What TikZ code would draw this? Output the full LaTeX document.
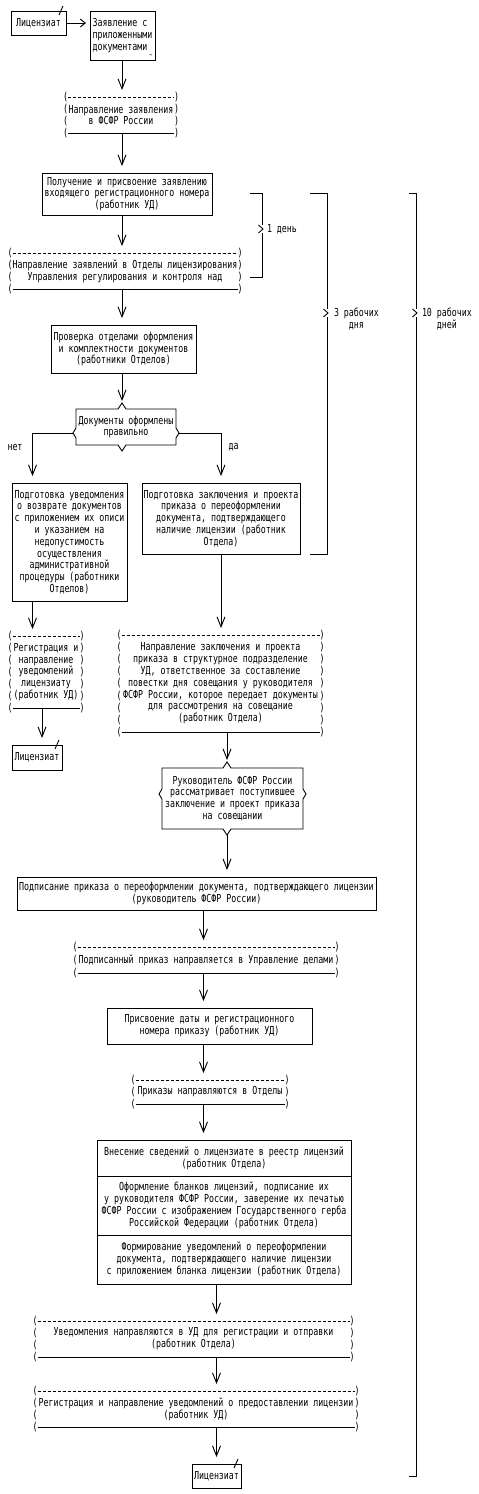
\documentclass[tikz,border=0pt]{standalone}
\usepackage{fontspec}
\setmonofont[FakeStretch=0.754]{DejaVu Sans Mono}
\usetikzlibrary{arrows.meta}
\usetikzlibrary{positioning, calc}

\begin{document}
\begin{tikzpicture}[x=1pt,y=-1pt,line width=0.9pt,
    every node/.style={font=\ttfamily\fontsize{11}{11.8}\selectfont,inner sep=0pt,outer sep=0pt}]
  \tikzstyle{box}=[draw,rectangle,inner sep=1pt,align=center]
  \tikzstyle{brk}=[rectangle,inner sep=0pt,align=center]
  \tikzstyle{decbox}=[rectangle,inner sep=1pt,align=center]
  \tikzstyle{paren}=[inner sep=0pt]
  \tikzstyle{vto}=[-{Straight Barb[length=10pt,width=8pt]},shorten >=7pt]
  \tikzstyle{hto}=[-{Straight Barb[length=5pt,width=8pt]},shorten >=4pt]
  \tikzstyle{dashline}=[dash pattern=on 3pt off 2pt]

  \useasboundingbox (0,0) rectangle (479,1494);

  % bracket box: dashed top, solid bottom, ( ) on every row
  \def\parenbox#1#2{%
    \draw[dashline] (#1.north west) -- (#1.north east);
    \draw (#1.south west) -- (#1.south east);
    \foreach \r [evaluate={\f=\r/#2;}] in {0,...,#2}{
        \node[paren] at ($(#1.north west)!\f!(#1.south west)+(-2.5,0)$) {(};
        \node[paren] at ($(#1.north east)!\f!(#1.south east)+(2.5,0)$) {)};
      }
  }
  % box with /\ \/ < > marks
  \def\notched#1#2#3{%
    \coordinate (#1t) at ($(#1.north -| #2)+(0,-6)$);
    \coordinate (#1b) at ($(#1.south -| #2)+(0,6)$);
    \coordinate (#1l) at ($(#1.west)+(-3,#3)$);
    \coordinate (#1r) at ($(#1.east)+(3,#3)$);
    \draw (#1.north west) -- ($(#1.north -| #2)+(-4,0)$) -- (#1t) -- ($(#1.north -| #2)+(4,0)$) -- (#1.north east)
    -- ($(#1r)+(-3,-5)$) -- (#1r) -- ($(#1r)+(-3,5)$) -- (#1.south east)
    -- ($(#1.south -| #2)+(4,0)$) -- (#1b) -- ($(#1.south -| #2)+(-4,0)$) -- (#1.south west)
    -- ($(#1l)+(3,5)$) -- (#1l) -- ($(#1l)+(3,-5)$) -- cycle;
  }

  \coordinate (a1) at (122,0);
  \coordinate (a3) at (227,0);
  \coordinate (a4) at (203.5,0);
  \coordinate (a5) at (216.5,0);
  \coordinate (a6) at (32.5,0);
  \coordinate (a7) at (42,0);

  % APPLICATION
  \node[box,minimum width=55pt,minimum height=24pt] (lic1) at (38.5,23) {Лицензиат};
  \node[box,align=left,minimum width=65pt,minimum height=49pt] (zayav) at (122.5,35.5)
  {Заявление с\\приложенными\\документами};
  \node[font=\ttfamily\scriptsize] (tilde) at (151,56) {\textasciitilde};
  \draw[hto] (lic1.east) -- (lic1.east -| zayav.west);

  \node[brk,minimum width=106pt,minimum height=36pt] (napr) at (121,115)
  {Направление заявления\\в ФСФР России};
  \parenbox{napr}{3}

  \node[box,minimum width=170pt,minimum height=42pt] (poluch) at (127,194)
  {Получение и присвоение заявлению\\входящего регистрационного номера\\(работник УД)};

  \node[brk,minimum width=225pt,minimum height=36pt] (naprot) at (125,271)
  {Направление заявлений в Отделы лицензирования\\Управления регулирования и контроля над};
  \parenbox{naprot}{3}

  \node[box,minimum width=145pt,minimum height=48pt] (prov) at (123.5,349)
  {Проверка отделами оформления\\и комплектности документов\\(работники Отделов)};

  % DECISION
  \node[decbox,minimum width=100pt,minimum height=36pt] (dec) at (126,427)
  {Документы оформлены\\правильно};
  \notched{dec}{a1}{6}
  \node (net) at (15,447) {нет};
  \node (da) at (233.5,447) {да};

  \node[box,minimum width=115pt,minimum height=118pt] (ret) at (69.5,542)
  {Подготовка уведомления\\о возврате документов\\с приложением их описи\\и указанием на\\недопустимость\\осуществления\\административной\\процедуры (работники\\Отделов)};
  \node[box,minimum width=158pt,minimum height=71pt] (zakl) at (221,518.5)
  {Подготовка заключения и проекта\\приказа о переоформлении\\документа, подтверждающего\\наличие лицензии (работник\\Отдела)};

  \node[brk,minimum width=67pt,minimum height=72pt] (regl) at (46,672)
  {Регистрация и\\направление\\уведомлений\\лицензиату\\(работник УД)};
  \parenbox{regl}{6}
  \node[box,minimum width=50pt,minimum height=25pt] (lic2) at (37,757.5) {Лицензиат};

  \node[brk,minimum width=198pt,minimum height=97pt] (napzak) at (220.5,683.5)
  {Направление заключения и проекта\\приказа в структурное подразделение\\УД, ответственное за составление\\повестки дня совещания у руководителя\\ФСФР России, которое передает документы\\для рассмотрения на совещание\\(работник Отдела)};
  \parenbox{napzak}{8}

  \node[decbox,minimum width=141pt,minimum height=61pt] (ruk) at (232.5,798.5)
  {Руководитель ФСФР России\\рассматривает поступившее\\заключение и проект приказа\\на совещании};
  \notched{ruk}{a3}{-4.5}

  % ORDER
  \node[box,minimum width=359pt,minimum height=33pt] (podp) at (196.5,893.5)
  {Подписание приказа о переоформлении документа, подтверждающего лицензии\\(руководитель ФСФР России)};
  \node[brk,minimum width=257pt,minimum height=26pt] (podpis) at (206,960)
  {Подписанный приказ направляется в Управление делами};
  \parenbox{podpis}{2}
  \node[box,minimum width=205pt,minimum height=36pt] (prisv) at (209.5,1026)
  {Присвоение даты и регистрационного\\номера приказу (работник УД)};
  \node[brk,minimum width=149pt,minimum height=24pt] (prik) at (210,1092)
  {Приказы направляются в Отделы};
  \parenbox{prik}{2}

  % LICENCE FORMS
  \node[box,minimum width=254pt,minimum height=36pt] (vnes) at (224,1158)
  {Внесение сведений о лицензиате в реестр лицензий\\(работник Отдела)};
  \node[box,minimum width=254pt,minimum height=59pt,below=0pt of vnes] (oform)
  {Оформление бланков лицензий, подписание их\\у руководителя ФСФР России, заверение их печатью\\ФСФР России с изображением Государственного герба\\Российской Федерации (работник Отдела)};
  \node[box,minimum width=254pt,minimum height=49pt,below=0pt of oform] (form)
  {Формирование уведомлений о переоформлении\\документа, подтверждающего наличие лицензии\\с приложением бланка лицензии (работник Отдела)};

  \node[brk,minimum width=312pt,minimum height=36pt] (uved) at (193.5,1339)
  {Уведомления направляются в УД для регистрации и отправки\\(работник Отдела)};
  \parenbox{uved}{3}
  \node[brk,minimum width=317pt,minimum height=36pt] (regn) at (196,1409)
  {Регистрация и направление уведомлений о предоставлении лицензии\\(работник УД)};
  \parenbox{regn}{3}
  \node[box,minimum width=49pt,minimum height=24pt] (lic3) at (216.5,1476) {Лицензиат};

  \foreach \n in {lic1,lic2,lic3}{
      \draw ([shift={(-7pt,-4pt)}]\n.north east) -- ++(4,-9);
    }

  % ARROWS
  \draw[vto] (zayav.south -| a1) -- (napr.north -| a1);
  \draw[vto] (napr.south -| a1) -- (poluch.north -| a1);
  \draw[vto] (poluch.south -| a1) -- (naprot.north -| a1);
  \draw[vto] (naprot.south -| a1) -- (prov.north -| a1);
  \draw[vto,shorten >=2pt] (prov.south -| a1) -- (dect);
  \draw[vto] (decl) -| (ret.north -| a6);
  \draw[vto] (decr) -| (zakl.north);
  \draw[vto] (ret.south -| a6) -- (regl.north -| a6);
  \draw[vto] (regl.south -| a7) -- (lic2.north -| a7);
  \draw[vto] (zakl.south) -- (napzak.north -| zakl.south);
  \draw[vto,shorten >=2pt] (napzak.south -| a3) -- (rukt);
  \draw[vto] (rukb) -- (podp.north -| a3);
  \draw[vto] (podp.south -| a4) -- (podpis.north -| a4);
  \draw[vto] (podpis.south -| a4) -- (prisv.north -| a4);
  \draw[vto] (prisv.south -| a4) -- (prik.north -| a4);
  \draw[vto] (prik.south -| a4) -- (vnes.north -| a4);
  \draw[vto] (form.south -| a5) -- (uved.north -| a5);
  \draw[vto] (uved.south -| a5) -- (regn.north -| a5);
  \draw[vto] (regn.south -| a5) -- (lic3.north);

  % DAYS
  \foreach \x/\t/\b/\m/\l in {262/193/277/229/12, 327/193/554/313/17, 416/193/1476/313/7}{
      \draw (\x-\l,\t) -| (\x,\m-4);
      \draw (\x-3.5,\m-4) -- (\x+1,\m) -- (\x-3.5,\m+4);
      \draw (\x,\m+4) |- (\x-\l,\b);
    }
  \node[anchor=west] (d1) at (267,229) {1 день};
  \node[anchor=west,align=center] (d3) at (334,319) {3 рабочих\\дня};
  \node[anchor=west,align=center] (d10) at (422,319) {10 рабочих\\дней};
\end{tikzpicture}
\end{document}
